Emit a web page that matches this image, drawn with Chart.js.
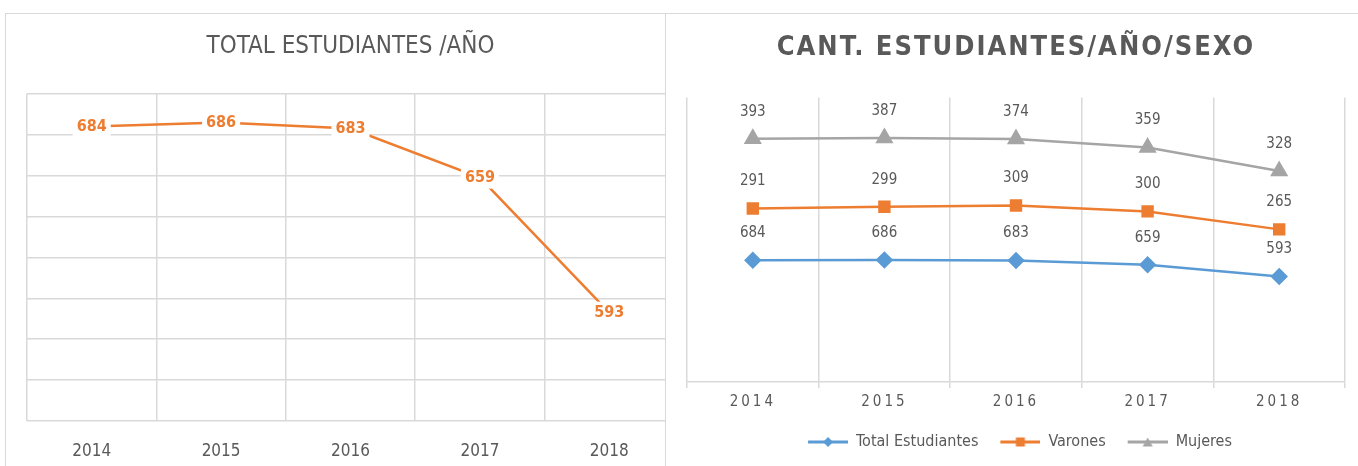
<!DOCTYPE html>
<html>
<head>
<meta charset="utf-8">
<script src="https://cdn.jsdelivr.net/npm/chart.js@4.4.1/dist/chart.umd.min.js"></script>
<style>
  html, body { margin: 0; padding: 0; background: #fff; }
  body { width: 1358px; height: 466px; position: relative; overflow: hidden; }
  #left { position: absolute; left: 5px; top: 13px; width: 680px; height: 453px; }
  #right { position: absolute; left: 665px; top: 13px; width: 693px; height: 453px; background: #fff; border-left: 1px solid #d9d9d9; }
  #topLine { position: absolute; left: 5px; top: 13px; width: 1353px; height: 1px; background: #d9d9d9; }
  #leftLine { position: absolute; left: 5px; top: 13px; width: 1px; height: 453px; background: #d9d9d9; }
  canvas { display: block; }
</style>
</head>
<body>
<div id="left"><canvas id="chartTotal" width="680" height="453"></canvas></div>
<div id="right"><canvas id="chartSexo" width="692" height="453"></canvas></div>
<div id="topLine"></div>
<div id="leftLine"></div>
<script>
// datos
const years = ['2014', '2015', '2016', '2017', '2018'];
const totalEstudiantes = [684, 686, 683, 659, 593];
const varones = [291, 299, 309, 300, 265];
const mujeres = [393, 387, 374, 359, 328];

const FONT = '"Liberation Sans Narrow", "DejaVu Sans Condensed", "Open Sans", sans-serif';
const TEXT = '#595959';
const GRID = '#d9d9d9';
const BLUE = '#5B9BD5', ORANGE = '#ED7D31', GRAY = '#A5A5A5';

Chart.defaults.font.family = FONT;
Chart.defaults.color = TEXT;

// etiquetas de valor sobre los puntos
const valueLabels = {
  id: 'valueLabels',
  afterDatasetsDraw(chart, args, opts) {
    const ctx = chart.ctx;
    chart.data.datasets.forEach((ds, di) => {
      const meta = chart.getDatasetMeta(di);
      meta.data.forEach((pt, i) => {
        const text = String(ds.data[i]);
        const x = pt.x;
        const y = pt.y + (opts.offsetY || 0);
        ctx.save();
        ctx.font = opts.font;
        ctx.textAlign = 'center';
        ctx.textBaseline = 'middle';
        if (opts.background) {
          const w = ctx.measureText(text).width + 2 * opts.padX;
          ctx.fillStyle = opts.background;
          ctx.fillRect(x - w / 2, y - opts.boxH / 2, w, opts.boxH);
        }
        ctx.fillStyle = opts.color || ds.borderColor;
        ctx.fillText(text, x, y);
        ctx.restore();
      });
    });
  }
};

// eje de categorias con letras espaciadas
class SpacedCategory extends Chart.CategoryScale {
  drawLabels(area) {
    const sp = this.options.ticks.letterSpacing || '0px';
    this.ctx.save();
    this.ctx.letterSpacing = sp;
    super.drawLabels(area);
    this.ctx.restore();
  }
}
SpacedCategory.id = 'spacedCategory';
SpacedCategory.defaults = Chart.CategoryScale.defaults;
Chart.register(SpacedCategory);

// ---- grafico 1: total por año
const chartTotal = new Chart(document.getElementById('chartTotal'), {
  type: 'line',
  data: {
    labels: years,
    datasets: [{
      label: 'Total Estudiantes',
      data: totalEstudiantes,
      borderColor: ORANGE,
      backgroundColor: ORANGE,
      borderWidth: 2.5,
      pointRadius: 0,
      tension: 0
    }]
  },
  options: {
    responsive: false,
    animation: false,
    events: [],
    layout: { padding: { left: 22, right: 11, top: 0, bottom: 0 } },
    plugins: {
      legend: { display: false },
      tooltip: { enabled: false },
      title: {
        display: true,
        text: 'TOTAL ESTUDIANTES /AÑO',
        color: TEXT,
        font: { size: 24, weight: 'normal' },
        padding: { top: 19, bottom: 33 }
      },
      valueLabels: {
        font: 'bold 16px ' + FONT,
        color: ORANGE,
        background: '#fff',
        padX: 4,
        boxH: 22,
        offsetY: 0
      }
    },
    scales: {
      x: {
        offset: true,
        grid: { offset: true, color: GRID, lineWidth: 1.5, drawTicks: false },
        border: { display: false },
        ticks: { color: TEXT, font: { size: 17 }, padding: 20 },
        afterFit(s) { s.height = 45; }
      },
      y: {
        min: 540,
        max: 700,
        ticks: { display: false, stepSize: 20 },
        grid: { color: GRID, lineWidth: 1.5, drawTicks: false },
        border: { display: false }
      }
    }
  },
  plugins: [valueLabels]
});

// iconos de leyenda: linea con marcador (8px libres a la izquierda)
function legendIcon(color, shape) {
  const c = document.createElement('canvas');
  c.width = 48; c.height = 14;
  const g = c.getContext('2d');
  g.strokeStyle = color; g.fillStyle = color; g.lineWidth = 3;
  g.beginPath(); g.moveTo(8, 7); g.lineTo(48, 7); g.stroke();
  g.beginPath();
  if (shape === 'diamond') { g.moveTo(28, 2); g.lineTo(33, 7); g.lineTo(28, 12); g.lineTo(23, 7); }
  else if (shape === 'square') { g.rect(23.5, 2.5, 9, 9); }
  else { g.moveTo(28, 2.5); g.lineTo(33, 11.5); g.lineTo(23, 11.5); }
  g.closePath(); g.fill();
  return c;
}
const icons = [legendIcon(BLUE, 'diamond'), legendIcon(ORANGE, 'square'), legendIcon(GRAY, 'triangle')];

// ---- grafico 2: por sexo (apilado)
const chartSexo = new Chart(document.getElementById('chartSexo'), {
  type: 'line',
  data: {
    labels: years,
    datasets: [
      { label: 'Total Estudiantes', data: totalEstudiantes, borderColor: BLUE, backgroundColor: BLUE,
        borderWidth: 2.5, pointStyle: 'rectRot', pointRadius: 7, tension: 0 },
      { label: 'Varones', data: varones, borderColor: ORANGE, backgroundColor: ORANGE,
        borderWidth: 2.5, pointStyle: 'rect', pointRadius: 7, tension: 0 },
      { label: 'Mujeres', data: mujeres, borderColor: GRAY, backgroundColor: GRAY,
        borderWidth: 2.5, pointStyle: 'triangle', pointRadius: 8, tension: 0 }
    ]
  },
  options: {
    responsive: false,
    animation: false,
    events: [],
    layout: { padding: { left: 21, right: 13, top: 0, bottom: 6 } },
    plugins: {
      tooltip: { enabled: false },
      title: {
        display: true,
        text: 'CANT. ESTUDIANTES/AÑO/SEXO',
        color: TEXT,
        font: { size: 27, weight: 'bold' },
        padding: { top: 19, bottom: 33 }
      },
      legend: {
        position: 'bottom',
        labels: {
          color: TEXT,
          font: { size: 16 },
          usePointStyle: true,
          pointStyleWidth: 48,
          padding: 14,
          generateLabels(chart) {
            const items = Chart.defaults.plugins.legend.labels.generateLabels(chart);
            items.forEach((it, i) => { it.pointStyle = icons[i]; });
            return items;
          }
        }
      },
      valueLabels: {
        font: '15px ' + FONT,
        color: TEXT,
        offsetY: -27
      }
    },
    scales: {
      x: {
        type: 'spacedCategory',
        offset: true,
        grid: { offset: true, color: GRID, lineWidth: 1.5, tickLength: 6 },
        border: { display: true, color: GRID, width: 1.5 },
        ticks: { color: TEXT, font: { size: 15 }, padding: 5, letterSpacing: '3px' },
        afterFit(s) { s.height = 38; }
      },
      y: {
        stacked: true,
        min: 0,
        max: 1600,
        display: false
      }
    }
  },
  plugins: [valueLabels]
});

// titulo espaciado
const tb = chartSexo.titleBlock;
const drawTitle = tb.draw.bind(tb);
tb.draw = function () {
  this.ctx.save();
  this.ctx.letterSpacing = '2px';
  drawTitle();
  this.ctx.restore();
};
chartSexo.draw();
</script>
</body>
</html>
